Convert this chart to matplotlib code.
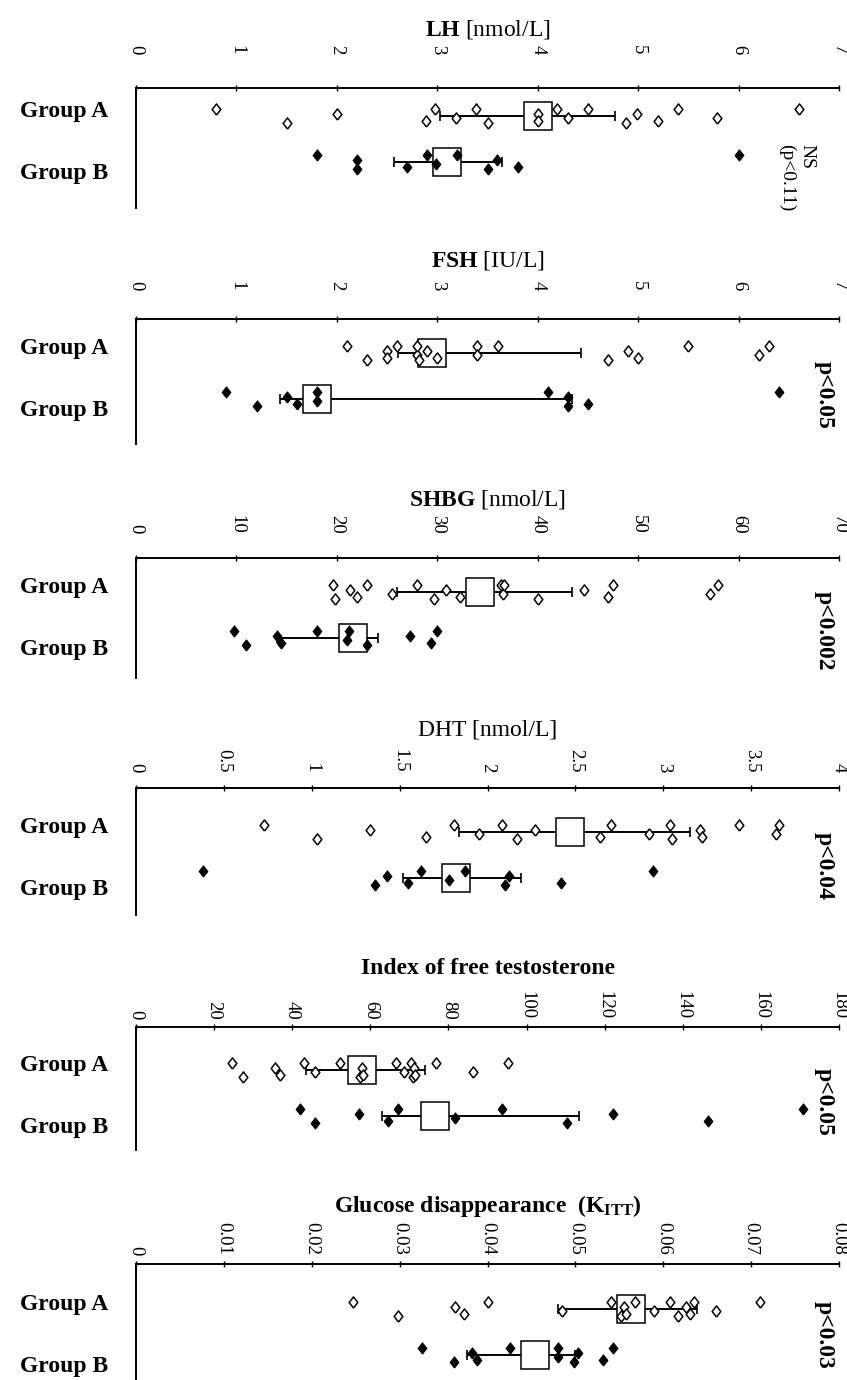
import numpy as np
import matplotlib.pyplot as plt

plt.rcParams['font.family'] = ['Liberation Serif', 'DejaVu Serif']
plt.rcParams['mathtext.fontset'] = 'custom'
plt.rcParams['mathtext.rm'] = 'Liberation Serif'
plt.rcParams['mathtext.bf'] = 'Liberation Serif:bold'
plt.rcParams['mathtext.it'] = 'Liberation Serif:italic'

groups = ['Group A', 'Group B']

titles = [r'$\mathbf{LH}$ [nmol/L]', r'$\mathbf{FSH}$ [IU/L]', r'$\mathbf{SHBG}$ [nmol/L]',
          'DHT [nmol/L]', 'Index of free testosterone',
          r'Glucose disappearance  ($\mathbf{K}_{\mathbf{ITT}}$)']
title_bold = [False, False, False, False, True, True]
pvals = ['NS\n(p<0.11)', 'p<0.05', 'p<0.002', 'p<0.04', 'p<0.05', 'p<0.03']
xmax = [7, 7, 70, 4, 180, 0.08]
xstep = [1, 1, 10, 0.5, 20, 0.01]

# individual values
lh_a = [0.80, 1.50, 2.00, 2.89, 2.98, 3.19, 3.39, 3.50, 4.00, 4.00, 4.19, 4.30, 4.50,
        4.88, 4.99, 5.20, 5.40, 5.79, 6.60]
lh_b = [1.80, 2.20, 2.20, 2.70, 2.90, 2.99, 3.20, 3.50, 3.59, 3.80, 6.00]
fsh_a = [2.10, 2.30, 2.50, 2.50, 2.60, 2.80, 2.80, 2.82, 2.90, 3.00, 3.40, 3.40, 3.60,
         4.70, 4.90, 5.00, 5.50, 6.20, 6.30]
fsh_b = [0.90, 1.20, 1.50, 1.60, 1.80, 1.80, 4.10, 4.30, 4.30, 4.50, 6.40]
shbg_a = [19.6, 19.8, 21.3, 22.0, 23.0, 25.5, 28.0, 29.7, 30.9, 32.3, 36.3, 36.5, 36.6,
          40.0, 44.6, 47.0, 47.5, 57.2, 58.0]
shbg_b = [9.8, 11.0, 14.0, 14.4, 18.0, 21.0, 21.2, 23.0, 27.3, 29.4, 30.0]
dht_a = [0.73, 1.03, 1.33, 1.65, 1.81, 1.95, 2.08, 2.17, 2.27, 2.64, 2.70, 2.92, 3.04,
         3.05, 3.21, 3.22, 3.43, 3.64, 3.66]
dht_b = [0.38, 1.36, 1.43, 1.55, 1.62, 1.78, 1.87, 2.10, 2.12, 2.42, 2.94]
ift_a = [24.7, 27.3, 35.5, 36.9, 43.0, 45.8, 52.2, 57.3, 57.8, 58.2, 66.6, 68.6, 70.5,
         70.8, 71.1, 71.4, 76.8, 86.4, 95.3]
ift_b = [42.0, 45.8, 57.2, 64.6, 67.2, 81.7, 93.6, 110.4, 122.2, 146.4, 170.9]
kitt_a = [0.0247, 0.0298, 0.0363, 0.0373, 0.0400, 0.0485, 0.0540, 0.0552, 0.0555, 0.0558,
          0.0568, 0.0590, 0.0608, 0.0617, 0.0626, 0.0630, 0.0635, 0.0660, 0.0710]
kitt_b = [0.0325, 0.0362, 0.0382, 0.0388, 0.0426, 0.0480, 0.0480, 0.0498, 0.0503,
          0.0531, 0.0543]

# box centre and whisker ends (A, B)
lh_stats = [(4.00, 3.03, 4.77), (3.10, 2.57, 3.64)]
fsh_stats = [(2.95, 2.61, 4.43), (1.80, 1.43, 4.34)]
shbg_stats = [(34.3, 26.0, 43.4), (21.6, 14.0, 24.1)]
dht_stats = [(2.47, 1.84, 3.15), (1.82, 1.52, 2.19)]
ift_stats = [(57.8, 43.5, 74.0), (76.5, 62.9, 113.5)]
kitt_stats = [(0.0563, 0.0480, 0.0638), (0.0454, 0.0377, 0.0500)]

values = [(lh_a, lh_b), (fsh_a, fsh_b), (shbg_a, shbg_b), (dht_a, dht_b),
          (ift_a, ift_b), (kitt_a, kitt_b)]
stats = [lh_stats, fsh_stats, shbg_stats, dht_stats, ift_stats, kitt_stats]

# layout in pixels: top spine, bottom, distance from top to row A
W, H = 847, 1380
layout = [(88, 208, 28), (319, 444, 34), (558, 678, 34), (788, 915, 44),
          (1027, 1150, 43), (1264, 1380, 45)]
tick_pads = [22, 18, 15, 9, 3, 4]
row_px = 46.0
left_px, right_px = 136, 839

diamond = [(0, -1), (0.78, 0), (0, 1), (-0.78, 0), (0, -1)]
jitter = [-0.15, 0.15, -0.04, 0.1, -0.15, 0.05]

fig = plt.figure(figsize=(W / 100, H / 100), dpi=100)

for i in range(6):
    top, bot, da = layout[i]
    ax = fig.add_axes([left_px / W, 1 - bot / H, (right_px - left_px) / W, (bot - top) / H])
    ylo = 1 + (bot - top - da - row_px) / row_px
    ax.set_ylim(ylo, -da / row_px)
    ax.set_xlim(0, xmax[i])

    for g in range(2):
        vals = np.sort(values[i][g])
        offs = np.array([jitter[k % len(jitter)] for k in range(len(vals))])
        c, lo, hi = stats[i][g]
        ax.errorbar([c], [g], xerr=[[c - lo], [hi - c]], fmt='none', ecolor='black',
                    elinewidth=1.4, capsize=3.6, capthick=1.2, zorder=2)
        ax.plot([c], [g], marker='s', markersize=19.5, markerfacecolor='white',
                markeredgecolor='black', markeredgewidth=1.1, linestyle='none', zorder=3)
        if g == 0:
            ax.plot(vals, g + offs, linestyle='none', marker=diamond, markersize=8,
                    markerfacecolor='white', markeredgecolor='black', markeredgewidth=1.1,
                    zorder=4)
        else:
            ax.plot(vals, g + offs, linestyle='none', marker=diamond, markersize=8,
                    markerfacecolor='black', markeredgecolor='black', markeredgewidth=0.8,
                    zorder=4)

    ticks = np.round(np.arange(0, xmax[i] + xstep[i] / 2, xstep[i]), 4)
    ax.xaxis.tick_top()
    ax.set_xticks(ticks)
    ax.set_xticklabels(['{:g}'.format(t) for t in ticks], rotation=-90)
    ax.tick_params(axis='x', direction='inout', length=5, width=1, labelsize=13.5,
                   pad=tick_pads[i])
    ax.set_yticks([-0.15, 1.2])
    ax.set_yticklabels(groups, fontsize=17, fontweight='bold')
    ax.tick_params(axis='y', length=0, pad=20)

    for s in ['right', 'bottom']:
        ax.spines[s].set_visible(False)
    for s in ['top', 'left']:
        ax.spines[s].set_linewidth(1.4)

    ax.annotate(titles[i], xy=(0.5, 1), xycoords='axes fraction', xytext=(0, 42),
                textcoords='offset points', ha='center', va='center', fontsize=17,
                fontweight='bold' if title_bold[i] else 'normal')

    if i == 0:
        ax.text(0.94, 0.53, pvals[i], transform=ax.transAxes, rotation=-90,
                ha='center', va='top', fontsize=14, multialignment='left')
    else:
        ax.text(0.979, 0.39, pvals[i], transform=ax.transAxes, rotation=-90,
                ha='center', va='center', fontsize=17, fontweight='bold')

fig.savefig('out.png', dpi=100)
